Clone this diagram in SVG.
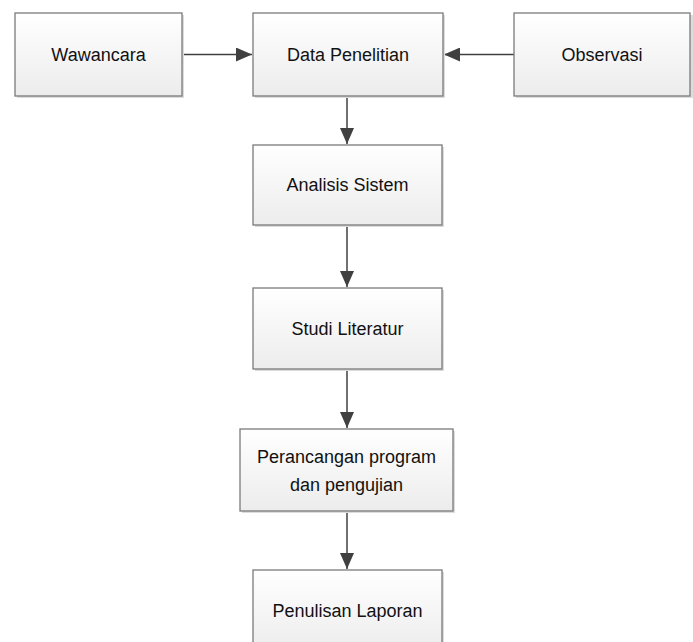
<svg xmlns="http://www.w3.org/2000/svg" width="693" height="642" viewBox="0 0 693 642">
<style>
.box{fill:url(#g);stroke:#7a7a7a;stroke-width:1.3}
.sh{fill:#dcdcdc}
.t{font-family:"Liberation Sans",Arial,sans-serif;font-size:18px;fill:#111;text-anchor:middle}
.c{stroke:#404040;stroke-width:1.5;fill:none;marker-end:url(#a)}
</style>
<defs>
<linearGradient id="g" x1="0" y1="0" x2="0" y2="1">
<stop offset="0" stop-color="#ffffff"/>
<stop offset="1" stop-color="#ececec"/>
</linearGradient>
<marker id="a" viewBox="0 0 16 14" refX="16" refY="7" markerWidth="16" markerHeight="14" markerUnits="userSpaceOnUse" orient="auto">
<path d="M0,0 L16,7 L0,14 z" fill="#404040"/>
</marker>
</defs>
<g id="connectors">
<path class="c" d="M182,54.5 H252"/>
<path class="c" d="M514,54.5 H444"/>
<path class="c" d="M347,96 V144"/>
<path class="c" d="M347,225 V287"/>
<path class="c" d="M347,369 V428"/>
<path class="c" d="M347,511 V569"/>
</g>
<g id="wawancara">
<rect class="sh" x="17" y="15" width="167" height="83"/>
<rect class="box" x="15" y="13" width="167" height="83"/>
<text class="t" x="98.5" y="61">Wawancara</text>
</g>
<g id="data-penelitian">
<rect class="sh" x="255" y="15" width="190" height="83"/>
<rect class="box" x="253" y="13" width="190" height="83"/>
<text class="t" x="348" y="61">Data Penelitian</text>
</g>
<g id="observasi">
<rect class="sh" x="516" y="15" width="177" height="83"/>
<rect class="box" x="514" y="13" width="176" height="83"/>
<text class="t" x="602" y="61">Observasi</text>
</g>
<g id="analisis-sistem">
<rect class="sh" x="255" y="147" width="189" height="80"/>
<rect class="box" x="253" y="145" width="189" height="80"/>
<text class="t" x="347.5" y="191">Analisis Sistem</text>
</g>
<g id="studi-literatur">
<rect class="sh" x="255" y="290" width="189" height="81"/>
<rect class="box" x="253" y="288" width="189" height="81"/>
<text class="t" x="347.5" y="335">Studi Literatur</text>
</g>
<g id="perancangan">
<rect class="sh" x="242" y="431" width="213" height="82"/>
<rect class="box" x="240" y="429" width="213" height="82"/>
<text class="t" x="346.5" y="463">Perancangan program</text>
<text class="t" x="346.5" y="491">dan pengujian</text>
</g>
<g id="penulisan-laporan">
<rect class="sh" x="255" y="572" width="189" height="82"/>
<rect class="box" x="253" y="570" width="189" height="82"/>
<text class="t" x="347.5" y="617">Penulisan Laporan</text>
</g>
</svg>
